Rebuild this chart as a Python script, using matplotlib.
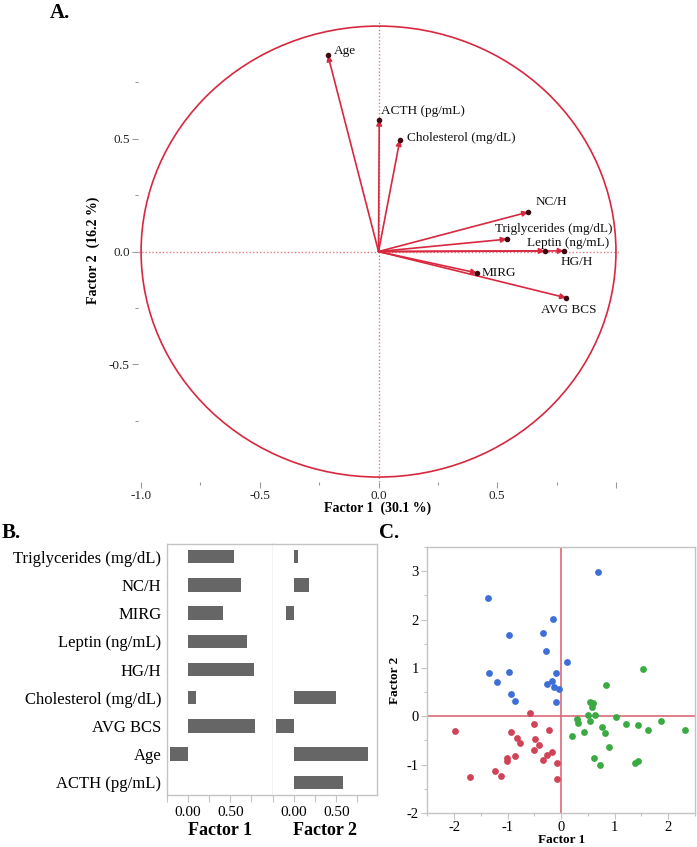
import matplotlib
matplotlib.use('Agg')
import matplotlib.pyplot as plt
from matplotlib.patches import Ellipse, FancyArrowPatch
from matplotlib.ticker import FixedLocator, FixedFormatter

plt.rcParams['font.family'] = ['Liberation Serif', 'DejaVu Serif']
plt.rcParams['axes.unicode_minus'] = False

# ---------------- data ----------------
variables = ['Triglycerides (mg/dL)', 'NC/H', 'MIRG', 'Leptin (ng/mL)', 'HG/H',
             'Cholesterol (mg/dL)', 'AVG BCS', 'Age', 'ACTH (pg/mL)']
factor1 = [0.54, 0.63, 0.415, 0.70, 0.78, 0.09, 0.79, -0.213, 0.003]
factor2 = [0.055, 0.175, -0.095, 0.003, 0.003, 0.495, -0.205, 0.87, 0.585]

pct_factor1 = 30.1
pct_factor2 = 16.2

blue_x = [0.68, -1.37, -0.16, -0.97, -0.34, -0.28, 0.11, -1.34, -0.97, -0.09,
          -1.20, -0.17, -0.26, -0.13, -0.04, -0.93, -0.87, -0.09]
blue_y = [2.98, 2.45, 2.01, 1.68, 1.73, 1.34, 1.12, 0.89, 0.91, 0.89,
          0.71, 0.73, 0.67, 0.60, 0.57, 0.46, 0.32, 0.29]
red_x = [-0.58, -1.99, -0.51, -0.22, -0.93, -0.82, -0.49, -0.77, -0.42, -0.51,
         -0.17, -0.87, -0.27, -1.02, -0.33, -1.02, -0.07, -1.23, -1.12, -1.70, -0.08]
red_y = [0.06, -0.30, -0.17, -0.29, -0.33, -0.45, -0.48, -0.55, -0.60, -0.70,
         -0.74, -0.83, -0.81, -0.87, -0.91, -0.93, -0.96, -1.14, -1.23, -1.26, -1.30]
green_x = [1.52, 0.83, 0.54, 0.59, 0.57, 0.50, 0.64, 1.03, 0.29, 0.54, 0.31, 1.87,
           1.22, 1.43, 0.42, 0.76, 1.62, 2.32, 0.82, 0.21, 0.89, 0.61, 0.73, 1.38, 1.43]
green_y = [0.97, 0.65, 0.30, 0.27, 0.19, 0.03, 0.03, -0.02, -0.05, -0.10, -0.14, -0.09,
           -0.17, -0.18, -0.32, -0.23, -0.28, -0.29, -0.34, -0.40, -0.64, -0.87, -1.00, -0.96, -0.93]

# ---------------- layout helpers ----------------
W, H = 697, 847
fig = plt.figure(figsize=(W / 100, H / 100), dpi=100)


def rect(l, t, r, b):
    return [l / W, 1 - b / H, (r - l) / W, (b - t) / H]


def fpos(x, y):
    return x / W, 1 - y / H


RED = '#d8283f'
DOT = '#3a0a10'
GRAYTICK = '#9a9a9a'
FRAME = '#c4c4c4'

# ---------------- Panel A ----------------
axA = fig.add_axes(rect(138, 20, 620, 482))
axA.set_xlim(-1.013, 1.017)
axA.set_ylim(-1.022, 1.027)
for s in axA.spines.values():
    s.set_visible(False)
axA.axhline(0, color='#e27a88', lw=1.0, ls=(0, (1, 1.5)), zorder=1)
axA.axvline(0, color='#e27a88', lw=1.0, ls=(0, (1, 1.5)), zorder=1)
axA.add_patch(Ellipse((0, 0), 2, 2, fill=False, ec=RED, lw=1.2, zorder=2))

label_offsets = {
    'Triglycerides (mg/dL)': (-12, 10),
    'NC/H': (7, 10),
    'MIRG': (5, 0),
    'Leptin (ng/mL)': (-18, 8),
    'HG/H': (-3, -11),
    'Cholesterol (mg/dL)': (7, 2),
    'AVG BCS': (-25, -12),
    'Age': (6, 4),
    'ACTH (pg/mL)': (2, 9),
}
for name, x, y in zip(variables, factor1, factor2):
    axA.add_patch(FancyArrowPatch((0, 0), (x, y), arrowstyle='-|>', color=RED,
                                  lw=1.2, mutation_scale=8, shrinkA=0, shrinkB=0,
                                  zorder=3))
    axA.annotate(name, xy=(x, y), xytext=label_offsets[name],
                 textcoords='offset pixels', ha='left', va='center',
                 fontsize=9.5, color='#111111', zorder=5)
axA.scatter(factor1, factor2, s=16, color=DOT, zorder=4, linewidths=0)

axA.xaxis.set_major_locator(FixedLocator([-1, -0.5, 0, 0.5, 1]))
axA.xaxis.set_major_formatter(FixedFormatter(['-1.0', '-0.5', '0.0', '0.5', '']))
axA.xaxis.set_minor_locator(FixedLocator([-0.75, -0.25, 0.25, 0.75]))
axA.yaxis.set_major_locator(FixedLocator([-0.5, 0, 0.5]))
axA.yaxis.set_major_formatter(FixedFormatter(['-0.5', '0.0', '0.5']))
axA.yaxis.set_minor_locator(FixedLocator([-0.75, -0.25, 0.25, 0.75]))
axA.tick_params(which='major', direction='out', length=4, width=0.8,
                color=GRAYTICK, labelsize=9.5, pad=2, labelcolor='#222222')
axA.tick_params(which='minor', direction='out', length=2.5, width=0.8, color=GRAYTICK)

fig.text(*fpos(378, 508), f'Factor 1  ({pct_factor1} %)', ha='center', va='center',
         fontsize=10, fontweight='bold')
fig.text(*fpos(93, 250), f'Factor 2  ({pct_factor2} %)', ha='center', va='center',
         fontsize=10, fontweight='bold', rotation=90)
fig.text(*fpos(50, 13), 'A.', ha='left', va='center', fontsize=15, fontweight='bold')

# ---------------- Panel B ----------------
ypos = list(range(len(variables)))
axB1 = fig.add_axes(rect(167, 544, 272.5, 795))
axB2 = fig.add_axes(rect(272.5, 544, 377, 795))
for ax, vals, xl, title in [(axB1, factor1, (-0.25, 1.0), 'Factor 1'),
                            (axB2, factor2, (-0.25, 0.98), 'Factor 2')]:
    ax.barh(ypos, vals, height=0.47, color='#666666', zorder=2)
    ax.set_xlim(*xl)
    ax.set_ylim(len(variables) - 0.55, -0.45)
    for s in ax.spines.values():
        s.set_color(FRAME)
        s.set_linewidth(1.0)
    ax.xaxis.set_major_locator(FixedLocator([-0.25, 0, 0.25, 0.5, 0.75]))
    ax.xaxis.set_major_formatter(FixedFormatter(['', '0.00', '', '0.50', '']))
    ax.tick_params(axis='x', direction='out', length=5, width=0.8, color=FRAME,
                   labelsize=11, pad=3)
    ax.set_xlabel(title, fontsize=13, fontweight='bold', labelpad=2)
axB1.set_yticks(ypos)
axB1.set_yticklabels(variables, fontsize=12)
axB1.tick_params(axis='y', length=0, pad=4)
axB2.set_yticks([])
axB2.spines['left'].set_visible(False)
axB1.spines['right'].set_color(FRAME)
fig.text(*fpos(2, 533), 'B.', ha='left', va='center', fontsize=15, fontweight='bold')

# ---------------- Panel C ----------------
axC = fig.add_axes(rect(427.3, 547, 695, 813))
axC.set_xlim(-2.5, 2.5)
axC.set_ylim(-2, 3.5)
axC.axhline(0, color='#dc6a78', lw=1.2, zorder=1)
axC.axvline(0, color='#dc6a78', lw=1.2, zorder=1)
axC.scatter(blue_x, blue_y, s=24, color='#3d6fd6', linewidths=0, zorder=3)
axC.scatter(red_x, red_y, s=24, color='#cf4458', linewidths=0, zorder=3)
axC.scatter(green_x, green_y, s=24, color='#3aaa42', linewidths=0, zorder=3)
for s in axC.spines.values():
    s.set_color(FRAME)
    s.set_linewidth(1.0)
axC.xaxis.set_major_locator(FixedLocator([-2, -1, 0, 1, 2]))
axC.xaxis.set_minor_locator(FixedLocator([-2.5, -1.5, -0.5, 0.5, 1.5, 2.5]))
axC.yaxis.set_major_locator(FixedLocator([-2, -1, 0, 1, 2, 3]))
axC.yaxis.set_minor_locator(FixedLocator([-1.5, -0.5, 0.5, 1.5, 2.5, 3.5]))
axC.tick_params(which='major', direction='out', length=4, width=0.8, color=FRAME,
                labelsize=10.5, pad=2)
axC.tick_params(which='minor', direction='out', length=2.5, width=0.8, color=FRAME)
axC.set_xlabel('Factor 1', fontsize=9.5, fontweight='bold', labelpad=0)
axC.set_ylabel('Factor 2', fontsize=9.5, fontweight='bold', labelpad=4)
fig.text(*fpos(379, 533), 'C.', ha='left', va='center', fontsize=15, fontweight='bold')

fig.savefig('out.png', dpi=100)
